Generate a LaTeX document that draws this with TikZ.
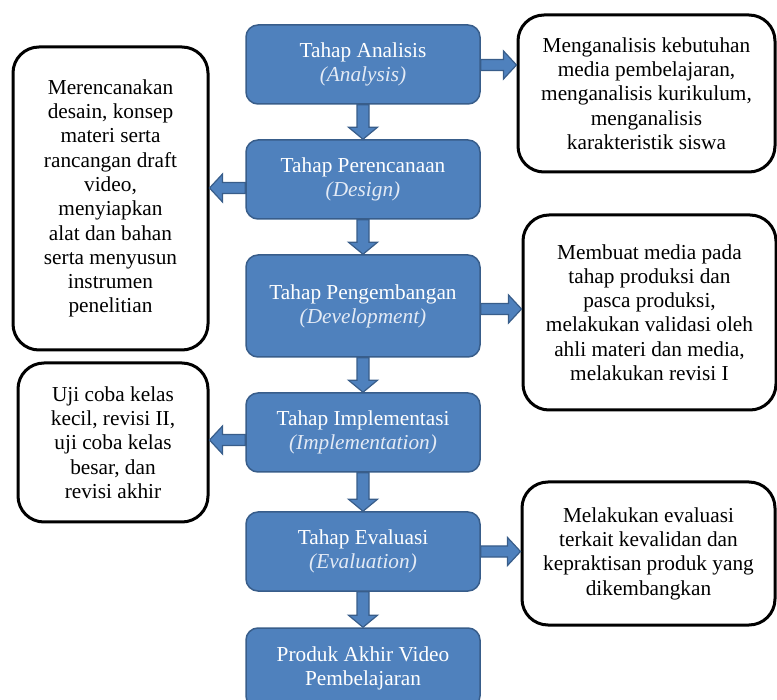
\documentclass[tikz,border=0pt]{standalone}
\usepackage{fontspec}
\setmainfont{Liberation Serif}
\usetikzlibrary{calc}
\definecolor{bfill}{HTML}{4F81BD}
\definecolor{bline}{HTML}{385D8A}
\definecolor{subtxt}{HTML}{E3EAF5}
\tikzset{
  stage/.style={draw=bline, line width=1.5pt, fill=bfill, rounded corners=12pt,
    text=white, align=center, font=\fontsize{21.3}{24}\selectfont, inner sep=0pt,
    minimum width=234pt, minimum height=79pt},
  note/.style={draw=black, line width=3pt, fill=white, rounded corners=26pt,
    align=center, font=\fontsize{21.3}{24.3}\selectfont, inner sep=0pt},
  barrow/.style={draw=bline, line width=1.2pt, fill=bfill, line join=miter},
}
\newcommand\sub[1]{{\color{subtxt}\itshape #1}}
% vertical block arrow: from bottom of first node down to top of second
\newcommand\downarrowblk[2]{%
  \draw[barrow] let \p1=(#1), \p2=(#2) in
    ({\x1-6pt},\y1) -- ({\x1-6pt},{\y2+12pt}) -- ({\x1-14.5pt},{\y2+12pt}) -- (\x1,\y2)
    -- ({\x1+14.5pt},{\y2+12pt}) -- ({\x1+6pt},{\y2+12pt}) -- ({\x1+6pt},\y1) -- cycle;}
% horizontal block arrow: start point, target node side, signed head length
\newcommand\sidearrowblk[3]{%
  \draw[barrow] let \p1=(#1), \p2=(#2) in
    (\x1,{\y1+5.5pt}) -- ({\x2-#3},{\y1+5.5pt}) -- ({\x2-#3},{\y1+14pt}) -- (\x2,\y1)
    -- ({\x2-#3},{\y1-14pt}) -- ({\x2-#3},{\y1-5.5pt}) -- (\x1,{\y1-5.5pt}) -- cycle;}
\begin{document}
\begin{tikzpicture}[x=1pt,y=-1pt]
\useasboundingbox (0,0) rectangle (777,700);
\clip (0,0) rectangle (777,700);
% stages
\node[stage] (b1) at (363,64.5) {Tahap Analisis\\\sub{(Analysis)}};
\node[stage] (b2) at (363,179.5) {Tahap Perencanaan\\\sub{(Design)}};
\node[stage, minimum height=102pt] (b3) at (363,306) {Tahap Pengembangan\\\sub{(Development)}};
\node[stage] (b4) at (363,432.5) {Tahap Implementasi\\\sub{(Implementation)}};
\node[stage] (b5) at (363,551.5) {Tahap Evaluasi\\\sub{(Evaluation)}};
\node[stage, minimum height=80pt] (b6) at (363,668) {Produk Akhir Video\\Pembelajaran};
% notes
\node[note, minimum width=257pt, minimum height=157pt] (A) at (646.5,93.5)
  {Menganalisis kebutuhan\\media pembelajaran,\\menganalisis kurikulum,\\menganalisis\\karakteristik siswa};
\node[note, minimum width=253pt, minimum height=195pt] (B) at (649.5,312.5)
  {Membuat media pada\\tahap produksi dan\\pasca produksi,\\melakukan validasi oleh\\ahli materi dan media,\\melakukan revisi I};
\node[note, minimum width=253pt, minimum height=143pt] (C) at (648.5,553.5)
  {Melakukan evaluasi\\terkait kevalidan dan\\kepraktisan produk yang\\dikembangkan};
\node[note, minimum width=195pt, minimum height=303pt] (D) at (110.5,198.5)
  {Merencanakan\\desain, konsep\\materi serta\\rancangan draft\\video,\\menyiapkan\\alat dan bahan\\serta menyusun\\instrumen\\penelitian};
\node[note, minimum width=190pt, minimum height=159pt] (E) at (113,442.5)
  {Uji coba kelas\\kecil, revisi II,\\uji coba kelas\\besar, dan\\revisi akhir};
% vertical arrows
\downarrowblk{b1.south}{b2.north}
\downarrowblk{b2.south}{b3.north}
\downarrowblk{b3.south}{b4.north}
\downarrowblk{b4.south}{b5.north}
\downarrowblk{b5.south}{b6.north}
% side arrows
\sidearrowblk{$(b1.east)+(0,0.5)$}{A.west}{13pt}
\sidearrowblk{$(b3.east)+(0,3)$}{B.west}{13pt}
\sidearrowblk{$(b5.east)+(0,0)$}{C.west}{13pt}
\sidearrowblk{$(b2.west)+(0,8.5)$}{D.east}{-13pt}
\sidearrowblk{$(b4.west)+(0,7.5)$}{E.east}{-13pt}
\end{tikzpicture}
\end{document}
